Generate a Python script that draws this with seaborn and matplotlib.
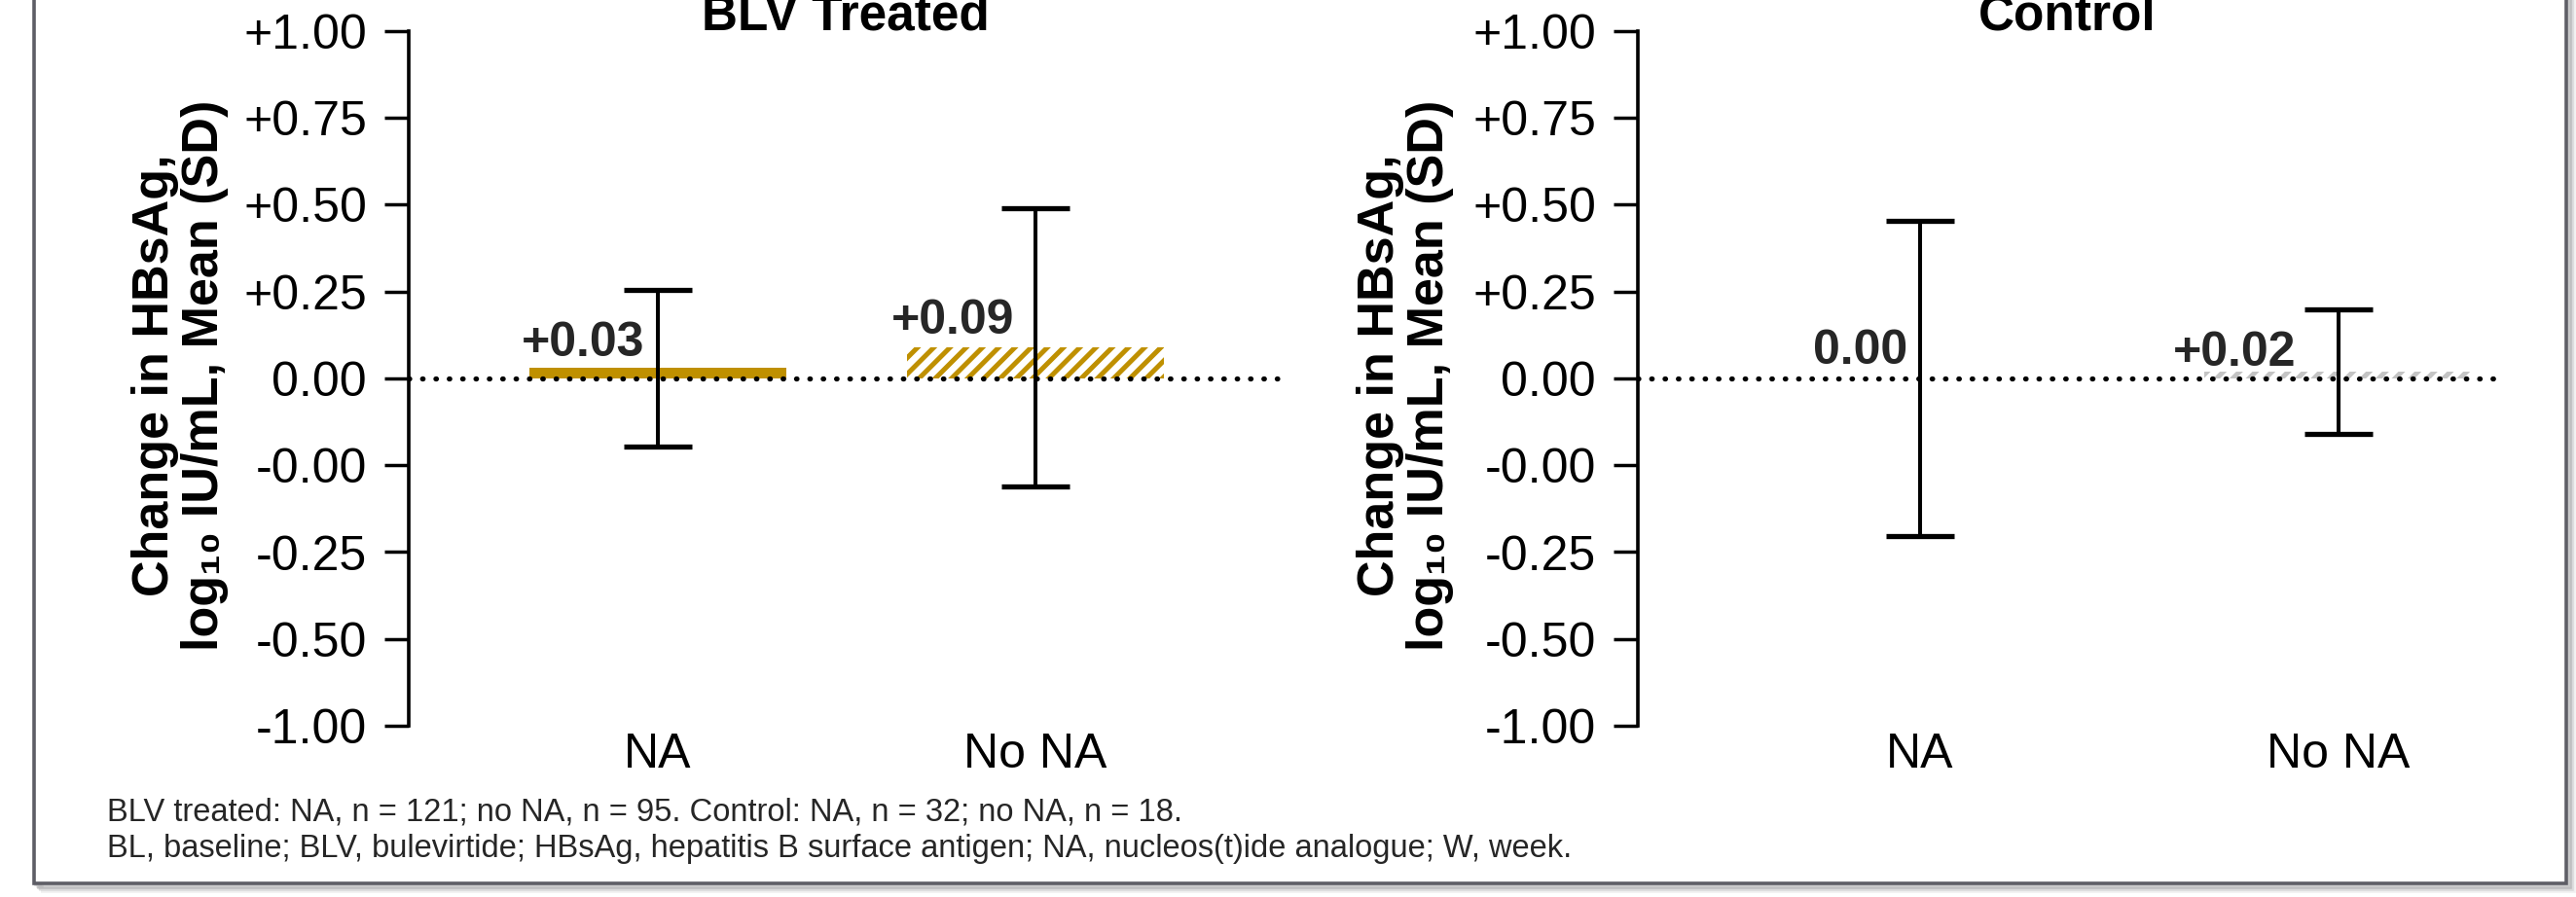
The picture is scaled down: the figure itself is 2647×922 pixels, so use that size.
import matplotlib
matplotlib.use("Agg")
import matplotlib.pyplot as plt
from matplotlib.patches import Rectangle
import seaborn as sns
import pandas as pd

# ---------------- data ----------------
categories = ["NA", "No NA"]
panel_titles = ["BLV Treated", "Control"]
blv_means = [0.03, 0.09]
blv_sds = [0.225, 0.40]
ctrl_means = [0.00, 0.02]
ctrl_sds = [0.455, 0.18]
blv_value_labels = ["+0.03", "+0.09"]
ctrl_value_labels = ["0.00", "+0.02"]
ytick_values = [1.00, 0.75, 0.50, 0.25, 0.00, -0.25, -0.50, -0.75, -1.00]
ytick_labels = ["+1.00", "+0.75", "+0.50", "+0.25", "0.00", "-0.00", "-0.25", "-0.50", "-1.00"]
ylabel_text = "Change in HBsAg,\nlog\u2081\u2080 IU/mL, Mean (SD)"
footnote_1 = "BLV treated: NA, n = 121; no NA, n = 95. Control: NA, n = 32; no NA, n = 18."
footnote_2 = ("BL, baseline; BLV, bulevirtide; HBsAg, hepatitis B surface antigen; "
              "NA, nucleos(t)ide analogue; W, week.")

# ---------------- style ----------------
GOLD = "#BF9000"
GREY = "#C4C4C4"
W, H = 2647, 922

sns.set_theme(style="white")
plt.rcParams["font.family"] = ["Liberation Sans", "DejaVu Sans"]
plt.rcParams["hatch.linewidth"] = 3.6

fig = plt.figure(figsize=(W / 100, H / 100), dpi=100)
fig.patch.set_facecolor("white")

# frame with shadow
for off, a in [(7, 0.10), (5, 0.15), (3, 0.25)]:
    fig.patches.append(Rectangle(((35 + off) / W, (922 - 908 - off) / H), (2637 - 35) / W, 1.2,
                                 transform=fig.transFigure, facecolor="none",
                                 edgecolor=(0.4, 0.4, 0.42, a), linewidth=4, zorder=-3))
fig.patches.append(Rectangle((35 / W, (922 - 908) / H), (2637 - 35) / W, 1.2,
                             transform=fig.transFigure, facecolor="white",
                             edgecolor="#5E5E66", linewidth=2.6, zorder=-2))

panels = [
    dict(rect=[420 / W, (922 - 746) / H, 897 / W, 714 / H], xlim=(-0.660, 1.652), width=0.68,
         means=blv_means, sds=blv_sds, labels=blv_value_labels, title=panel_titles[0],
         colors=[GOLD, GOLD], hatches=[None, "//"], ylab_x=-185 / 897,
         lab_off=[(-14, 12), (-22, 14)]),
    dict(rect=[1683 / W, (922 - 746) / H, 882 / W, 714 / H], xlim=(-0.674, 1.377), width=0.64,
         means=ctrl_means, sds=ctrl_sds, labels=ctrl_value_labels, title=panel_titles[1],
         colors=[GREY, GREY], hatches=[None, "//"], ylab_x=-189 / 882,
         lab_off=[(-13, 15), (-44, 6)]),
]

for p in panels:
    ax = fig.add_axes(p["rect"])
    ax.set_facecolor("none")
    df = pd.DataFrame({"cat": categories, "val": p["means"]})
    sns.barplot(data=df, x="cat", y="val", hue="cat", palette=p["colors"], legend=False,
                width=p["width"], saturation=1, ax=ax, zorder=2)
    for patch, hatch, col in zip(ax.patches, p["hatches"], p["colors"]):
        if hatch:
            patch.set_facecolor("white")
            patch.set_edgecolor(col)
            patch.set_hatch(hatch)
            patch.set_linewidth(0)
        else:
            patch.set_linewidth(0)
    xs = [patch.get_x() + patch.get_width() / 2 for patch in ax.patches]
    ax.axhline(0, color="black", lw=3.8, linestyle=(0, (0.1, 2.5)),
               dash_capstyle="round", zorder=4)
    ax.errorbar(xs, p["means"], yerr=p["sds"], fmt="none", ecolor="black",
                elinewidth=2.9, capsize=25, capthick=3.8, zorder=5)
    for x, m, lab, (dx, dy) in zip(xs, p["means"], p["labels"], p["lab_off"]):
        ax.annotate(lab, xy=(x, m), xytext=(dx * 0.72, dy * 0.72), textcoords="offset points",
                    ha="right", va="baseline", fontsize=36, fontweight="bold", zorder=6)
    ax.set_xlim(*p["xlim"])
    ax.set_ylim(-1, 1)
    ax.set_yticks(ytick_values)
    ax.set_yticklabels(ytick_labels)
    ax.tick_params(axis="y", direction="out", length=18, width=2.5, pad=13,
                   labelsize=36, color="black", labelcolor="black", left=True)
    ax.tick_params(axis="x", length=0, pad=5, labelsize=36, labelcolor="black")
    ax.set_xlabel("")
    for s in ["top", "right", "bottom"]:
        ax.spines[s].set_visible(False)
    ax.spines["left"].set_color("black")
    ax.spines["left"].set_linewidth(2.6)
    ax.set_ylabel(ylabel_text, fontsize=37.5, fontweight="bold", color="black",
                  linespacing=1.05)
    ax.yaxis.set_label_coords(p["ylab_x"], 0.505)
    ax.set_title(p["title"], fontsize=37, fontweight="bold", pad=1, color="black")

fig.text(110 / W, (922 - 843) / H, footnote_1, fontsize=23.5, color="#262626", va="baseline")
fig.text(110 / W, (922 - 881) / H, footnote_2, fontsize=23.5, color="#262626", va="baseline")

fig.savefig("out.png", dpi=100)
